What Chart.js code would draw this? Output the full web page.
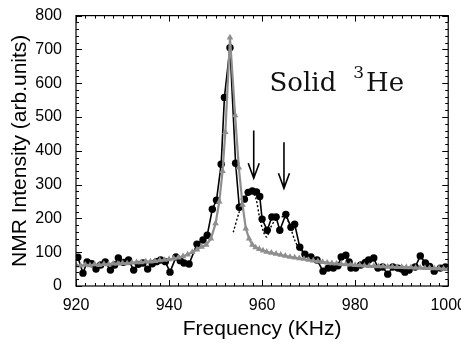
<!DOCTYPE html>
<html><head><meta charset="utf-8">
<script src="https://cdn.jsdelivr.net/npm/chart.js@4/dist/chart.umd.min.js"></script>
<style>html,body{margin:0;padding:0;background:#fff;overflow:hidden}#wrap{width:468px;height:352px}</style>
</head><body><div id="wrap"><canvas id="c" width="468" height="352"></canvas></div>
<script>
// Measured data (black circles)
const blackFreq = [920.4,921.5,922.4,923.4,924.3,925.3,926.3,927.4,928.3,929.1,930.2,931.3,932.4,933.4,934.4,935.4,936.4,937.3,938.2,939.2,940.2,941.5,942.4,943.2,944.3,946.0,947.3,948.2,949.3,950.2,951.2,951.9,953.1,954.3,955.1,956.2,957.0,957.9,958.8,959.5,960.0,961.1,962.1,963.0,963.8,965.1,966.2,967.0,968.1,969.2,970.5,971.8,973.1,974.2,975.3,976.3,977.0,978.0,978.7,979.1,980.1,981.2,982.2,982.9,984.0,984.9,985.9,987.0,988.1,989.2,990.0,990.7,991.6,992.9,994.0,995.1,996.0,997.0,998.3,999.4];
const blackInt  = [85,38,71,66,50,62,71,47,62,83,70,77,47,64,68,50,66,72,77,72,41,86,75,68,65,124,136,150,227,254,360,558,705,363,233,257,277,281,278,265,198,165,204,204,165,212,174,183,115,94,86,77,44,53,53,60,86,91,71,53,53,62,70,77,83,53,56,35,56,53,50,41,47,56,89,68,58,44,53,56];
// Reference signal (gray triangles)
const grayFreq = [920,921,922,923,924,925,926,927,928,929,930,931,932,933,934,935,936,937,938,939,940,941,942,943,944,945,946,947,948,949,950,950.8,951.5,952.1,953.1,954.2,955.0,955.8,956.5,957.2,957.9,958.6,959.4,960.2,961,962,963,964,965,966,967,968,969,970,971,972,973,974,975,976,977,978,979,980,981,982,983,984,985,986,987,988,989,990,991,992,993,994,995,996,997,998,999,1000];
const grayInt  = [62,60,63,61,64,62,65,64,66,66,68,67,69,70,70,72,72,74,76,77,79,81,84,88,93,100,108,116,122,140,185,250,340,455,735,505,350,240,170,140,122,114,109,105,101,98,95,92,89,86,84,82,80,77,75,73,71,69,67,66,65,64,63,62,61,60,59,59,58,58,57,57,56,56,55,55,54,54,53,53,52,52,51,51];
// Dotted fit of satellite peaks
const fitFreq = [953.8,955.1,956.2,957.7,958.6,959.5,960.3,961.0,961.8,962.5,963.6,964.4,965.3,966.2,967.0,968.1,969.4,971.2];
const fitInt  = [159,220,260,277,262,200,160,145,172,189,204,205,200,170,136,109,95,85];
// Arrows marking satellite peaks
const arrowFreq = [958.2, 964.7];
const arrowTop = [460, 425];
const arrowBottom = [319, 289];
// Tick labels
const xTickLabels = [920, 940, 960, 980, 1000];
const yTickLabels = [0, 100, 200, 300, 400, 500, 600, 700, 800];

const pts = (xs, ys) => xs.map((x, i) => ({x, y: ys[i]}));
const SANS = '"Liberation Sans", Arial, sans-serif';

const frame = {
  id: 'frame',
  afterDraw(chart) {
    const {ctx, chartArea: a, scales: {x, y}} = chart;
    ctx.save();
    ctx.strokeStyle = '#000';
    ctx.lineWidth = 1.2;
    ctx.strokeRect(a.left, a.top, a.right - a.left, a.bottom - a.top);
    ctx.beginPath();
    x.ticks.forEach(t => {
      const p = Math.round(x.getPixelForValue(t.value)) + 0.5;
      const len = (t.value % 20 === 0) ? 6 : 3;
      ctx.moveTo(p, a.bottom); ctx.lineTo(p, a.bottom - len);
      ctx.moveTo(p, a.top); ctx.lineTo(p, a.top + len);
    });
    y.ticks.forEach(t => {
      const p = Math.round(y.getPixelForValue(t.value)) + 0.5;
      const len = (t.value % 100 === 0) ? 6 : 3;
      ctx.moveTo(a.left, p); ctx.lineTo(a.left + len, p);
      ctx.moveTo(a.right, p); ctx.lineTo(a.right - len, p);
    });
    ctx.lineWidth = 1;
    ctx.stroke();

    // arrows
    ctx.lineWidth = 1.6;
    arrowFreq.forEach((f, i) => {
      const px = x.getPixelForValue(f);
      const t = y.getPixelForValue(arrowTop[i]);
      const b = y.getPixelForValue(arrowBottom[i]);
      ctx.beginPath();
      ctx.moveTo(px, t); ctx.lineTo(px, b);
      ctx.moveTo(px - 5.5, b - 15); ctx.lineTo(px, b); ctx.lineTo(px + 5.5, b - 15);
      ctx.stroke();
    });

    // label
    const lx = x.getPixelForValue(961.6), ly = y.getPixelForValue(578);
    ctx.fillStyle = '#111';
    ctx.textBaseline = 'alphabetic';
    ctx.font = '26px "DejaVu Serif", serif';
    ctx.fillText('Solid', lx, ly);
    let cx = lx + ctx.measureText('Solid').width + 17;
    ctx.font = '17px "DejaVu Serif", serif';
    ctx.fillText('3', cx, ly - 13);
    cx += ctx.measureText('3').width + 2;
    ctx.font = '26px "DejaVu Serif", serif';
    ctx.fillText('He', cx, ly);
    ctx.restore();
  }
};

new Chart(document.getElementById('c'), {
  type: 'scatter',
  data: {
    datasets: [
      { data: pts(grayFreq, grayInt), showLine: true, borderColor: '#8e8e8e', backgroundColor: '#8e8e8e',
        borderWidth: 2.2, pointStyle: 'triangle', pointRadius: 3.8, pointBorderWidth: 0 },
      { data: pts(blackFreq, blackInt), showLine: true, borderColor: '#000', backgroundColor: '#000',
        borderWidth: 1.6, pointStyle: 'circle', pointRadius: 3.7, pointBorderWidth: 0 },
      { data: pts(fitFreq, fitInt), showLine: true, borderColor: '#000', borderWidth: 1.4,
        borderDash: [2, 2], pointRadius: 0, tension: 0.3 }
    ]
  },
  options: {
    responsive: false, animation: false, devicePixelRatio: 1,
    layout: { padding: { top: 15, left: 0, right: 0, bottom: 10 } },
    plugins: { legend: { display: false }, tooltip: { enabled: false } },
    scales: {
      x: {
        type: 'linear', min: 920, max: 1000,
        grid: { display: false }, border: { display: false },
        ticks: { stepSize: 2, autoSkip: false, maxRotation: 0, padding: 2, color: '#000',
          font: { family: SANS, size: 16 },
          callback: v => xTickLabels.includes(v) ? String(v) : '' },
        title: { display: true, text: 'Frequency (KHz)', color: '#000', font: { family: SANS, size: 21 }, padding: { top: 2, bottom: 0 } },
        afterFit: s => { s.height = 56; }
      },
      y: {
        min: 0, max: 800,
        grid: { display: false }, border: { display: false },
        ticks: { stepSize: 20, autoSkip: false, padding: 6, color: '#000',
          font: { family: SANS, size: 16 },
          callback: v => yTickLabels.includes(v) ? String(v) : '' },
        title: { display: true, text: 'NMR Intensity (arb.units)', color: '#000', font: { family: SANS, size: 21 }, padding: { top: 8, bottom: 4 } },
        afterFit: s => { s.width = 76; }
      }
    }
  },
  plugins: [frame]
});
</script></body></html>
